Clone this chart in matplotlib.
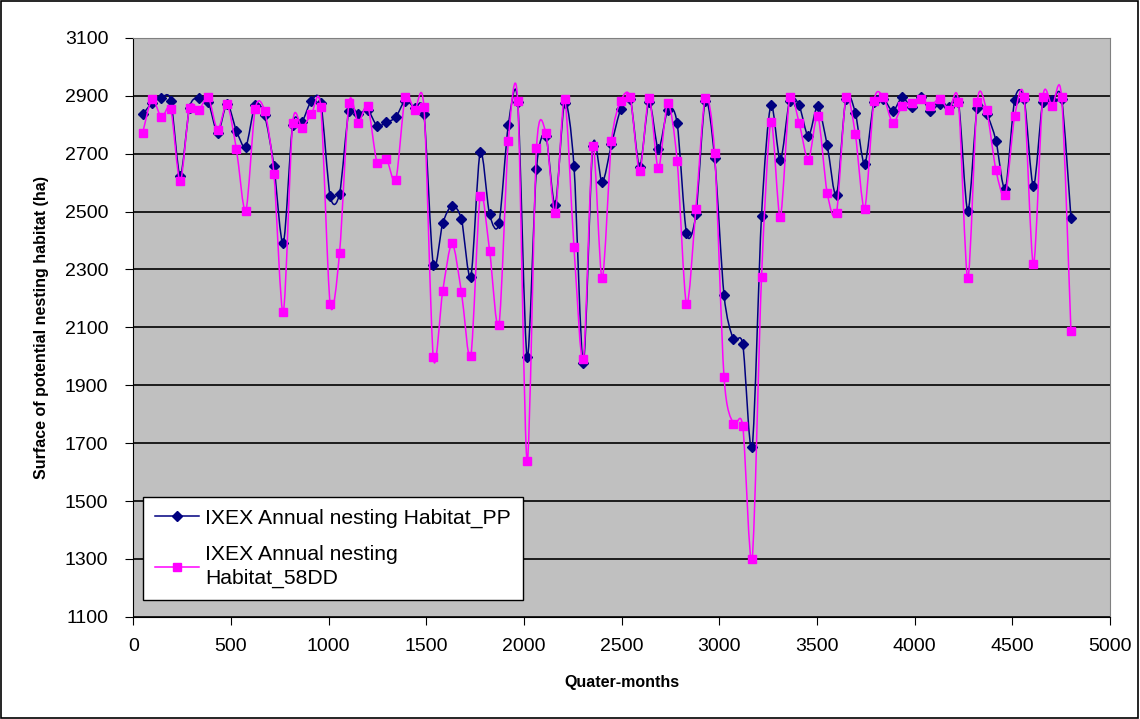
import numpy as np
import matplotlib; matplotlib.use("Agg")
import matplotlib.pyplot as plt
from matplotlib.path import Path
from matplotlib.patches import PathPatch, Rectangle
from matplotlib.lines import Line2D

plt.rcParams["font.family"] = ["Liberation Sans", "DejaVu Sans"]

# quarter-month index (every 48)
qm = [48 * k for k in range(1, 101)]

habitat_pp = [
    2836, 2874, 2893, 2883, 2623, 2859, 2893, 2878, 2772, 2872,
    2779, 2724, 2868, 2833, 2657, 2390, 2800, 2810, 2883, 2876,
    2553, 2562, 2848, 2836, 2851, 2796, 2808, 2826, 2883, 2858,
    2836, 2315, 2459, 2520, 2473, 2275, 2707, 2490, 2459, 2798,
    2878, 1998, 2647, 2761, 2522, 2876, 2657, 1978, 2725, 2601,
    2732, 2855, 2890, 2655, 2879, 2716, 2851, 2805, 2425, 2490,
    2883, 2684, 2212, 2059, 2041, 1685, 2486, 2868, 2677, 2883,
    2868, 2760, 2864, 2730, 2557, 2890, 2842, 2664, 2880, 2890,
    2847, 2894, 2862, 2894, 2848, 2872, 2860, 2879, 2503, 2856,
    2837, 2745, 2578, 2886, 2890, 2588, 2880, 2885, 2890, 2479,
]

habitat_58dd = [
    2771, 2889, 2825, 2854, 2604, 2859, 2851, 2894, 2782, 2871,
    2715, 2502, 2854, 2848, 2630, 2152, 2806, 2790, 2836, 2860,
    2180, 2358, 2875, 2807, 2865, 2669, 2682, 2609, 2895, 2851,
    2860, 1996, 2225, 2390, 2221, 2001, 2555, 2365, 2108, 2744,
    2883, 1638, 2718, 2771, 2496, 2889, 2377, 1989, 2727, 2269,
    2742, 2883, 2895, 2639, 2893, 2649, 2874, 2676, 2180, 2510,
    2893, 2701, 1930, 1767, 1759, 1300, 2273, 2810, 2481, 2894,
    2807, 2678, 2830, 2565, 2496, 2895, 2768, 2510, 2883, 2895,
    2806, 2865, 2876, 2890, 2865, 2890, 2851, 2880, 2269, 2879,
    2850, 2644, 2556, 2830, 2894, 2318, 2894, 2865, 2895, 2087,
]

labels = ["IXEX Annual nesting Habitat_PP", "IXEX Annual nesting\nHabitat_58DD"]
navy = "#000080"
pink = "#FF00FF"


def smooth_path(x, y, t=7.0):
    # Excel-style smoothed line: Catmull-Rom segments as cubic Beziers
    p = np.column_stack([x, y]).astype(float)
    n = len(p)
    verts = [p[0]]
    codes = [Path.MOVETO]
    for i in range(n - 1):
        p0 = p[max(i - 1, 0)]
        p3 = p[min(i + 2, n - 1)]
        c1 = p[i] + (p[i + 1] - p0) / t
        c2 = p[i + 1] - (p3 - p[i]) / t
        verts += [c1, c2, p[i + 1]]
        codes += [Path.CURVE4] * 3
    return Path(verts, codes)


fig = plt.figure(figsize=(11.4, 7.19), dpi=100)
ax = fig.add_axes([0.1169, 0.1421, 0.8568, 0.8053])
ax.set_facecolor("#C0C0C0")

ax.add_patch(PathPatch(smooth_path(qm, habitat_pp), fill=False, ec=navy, lw=1.1, zorder=3))
ax.plot(qm, habitat_pp, ls="none", marker="D", ms=5.5, color=navy, zorder=4)
ax.add_patch(PathPatch(smooth_path(qm, habitat_58dd), fill=False, ec=pink, lw=1.1, zorder=5))
ax.plot(qm, habitat_58dd, ls="none", marker="s", ms=6, color=pink, zorder=6)

ax.set_xlim(0, 5000)
ax.set_ylim(1100, 3100)
ax.set_xticks(range(0, 5001, 500))
ax.set_yticks(range(1100, 3101, 200))
ax.tick_params(labelsize=14, direction="out", length=6, color="black")
ax.tick_params(axis="x", pad=9)
ax.tick_params(axis="y", pad=12)
ax.grid(axis="y", color="black", lw=1.2)
ax.set_axisbelow(True)
for s in ["top", "right"]:
    ax.spines[s].set_color("#808080")
for s in ["left", "bottom"]:
    ax.spines[s].set_color("black")

ax.set_xlabel("Quater-months", fontsize=11.5, fontweight="bold", va="center")
ax.set_ylabel("Surface of potential nesting habitat (ha)", fontsize=11.5, fontweight="bold", va="center")
ax.xaxis.set_label_coords(0.5, -0.114)
ax.yaxis.set_label_coords(-0.0935, 0.5)

handles = [
    Line2D([], [], color=navy, marker="D", ms=5.5, lw=1.1),
    Line2D([], [], color=pink, marker="s", ms=6, lw=1.1),
]
leg = ax.legend(handles, labels, loc="upper left", bbox_to_anchor=(0.0099, 0.207),
                fontsize=15.2, frameon=True, fancybox=False, edgecolor="black",
                framealpha=1, borderaxespad=0, handlelength=2.1, handletextpad=0.3,
                labelspacing=0.8, borderpad=0.55)
leg.get_frame().set_linewidth(1.0)
for txt in leg.get_texts():
    txt.set_linespacing(1.35)

fig.patches.append(Rectangle((0.001, 0.002), 0.997, 0.996, transform=fig.transFigure,
                             fill=False, ec="black", lw=1.2))

fig.savefig("out.png", dpi=100)
